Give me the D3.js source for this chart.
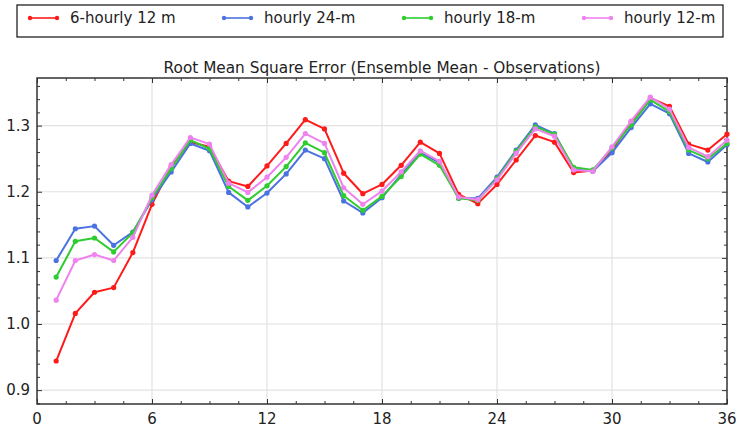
<!DOCTYPE html>
<html>
<head>
<meta charset="utf-8">
<script src="https://cdn.jsdelivr.net/npm/d3@7"></script>
<style>
  html, body { margin: 0; padding: 0; background: #fff; }
  svg { display: block; font-family: "DejaVu Sans", sans-serif; }
</style>
</head>
<body>
<svg id="chart" width="747" height="432"></svg>
<script>
// Forecast hour (x) and RMSE for each configuration
const hours = d3.range(1, 37);
const seriesNames = ["6-hourly 12 m", "hourly 24-m", "hourly 18-m", "hourly 12-m"];
const seriesColors = ["#ff1a1a", "#4a72e0", "#2ecc2e", "#ee82ee"];

const red6h12 = [0.944, 1.016, 1.048, 1.055, 1.108, 1.181, 1.238, 1.275, 1.268, 1.216,
  1.208, 1.239, 1.273, 1.309, 1.295, 1.228, 1.197, 1.211, 1.240, 1.275,
  1.258, 1.196, 1.182, 1.211, 1.248, 1.285, 1.275, 1.229, 1.232, 1.262,
  1.306, 1.342, 1.329, 1.272, 1.263, 1.287];
const blue1h24 = [1.096, 1.144, 1.148, 1.119, 1.139, 1.188, 1.230, 1.273, 1.262, 1.199,
  1.177, 1.198, 1.227, 1.263, 1.250, 1.186, 1.168, 1.191, 1.226, 1.259,
  1.244, 1.190, 1.190, 1.222, 1.263, 1.301, 1.288, 1.234, 1.231, 1.259,
  1.297, 1.333, 1.318, 1.258, 1.245, 1.271];
const green1h18 = [1.071, 1.125, 1.130, 1.109, 1.138, 1.191, 1.235, 1.278, 1.265, 1.208,
  1.187, 1.209, 1.238, 1.274, 1.259, 1.194, 1.172, 1.193, 1.223, 1.257,
  1.240, 1.190, 1.187, 1.220, 1.261, 1.298, 1.287, 1.237, 1.233, 1.266,
  1.301, 1.339, 1.321, 1.263, 1.250, 1.273];
const pink1h12 = [1.036, 1.096, 1.105, 1.096, 1.131, 1.195, 1.241, 1.282, 1.272, 1.213,
  1.199, 1.222, 1.252, 1.288, 1.273, 1.206, 1.181, 1.201, 1.230, 1.262,
  1.246, 1.192, 1.188, 1.218, 1.258, 1.295, 1.284, 1.233, 1.231, 1.268,
  1.307, 1.343, 1.325, 1.267, 1.253, 1.278];
const seriesValues = [red6h12, blue1h24, green1h18, pink1h12];

const xTicks = [0, 6, 12, 18, 24, 30, 36];
const yTicks = [0.9, 1.0, 1.1, 1.2, 1.3];
const chartTitle = "Root Mean Square Error (Ensemble Mean - Observations)";

const svg = d3.select("#chart");
const plot = { left: 37, right: 727, top: 78, bottom: 404 };

const x = d3.scaleLinear().domain([0, 36]).range([plot.left, plot.right]);
const y = d3.scaleLinear().domain([0.879, 1.372]).range([plot.bottom, plot.top]);

// grid
const grid = svg.append("g");
grid.selectAll("line.gx").data(xTicks.slice(1, -1)).join("line")
  .attr("x1", d => x(d)).attr("x2", d => x(d))
  .attr("y1", plot.top).attr("y2", plot.bottom)
  .attr("stroke", "#e2e2e2").attr("stroke-width", 1.2);
grid.selectAll("line.gy").data(yTicks).join("line")
  .attr("x1", plot.left).attr("x2", plot.right)
  .attr("y1", d => y(d)).attr("y2", d => y(d))
  .attr("stroke", "#e2e2e2").attr("stroke-width", 1.2);

// inward ticks on all four sides
const xMinor = d3.range(0, 36.01, 1.5).filter(v => v % 6 !== 0);
const yMinor = d3.range(0.88, 1.371, 0.02).map(v => +v.toFixed(2)).filter(v => Math.abs(v * 10 - Math.round(v * 10)) > 1e-6);
function ticksAxis(axisGen, transform, major, minor) {
  const g = svg.append("g").attr("transform", transform);
  g.call(axisGen.tickValues(major).tickSizeInner(-5).tickSizeOuter(0).tickFormat(""));
  const gm = svg.append("g").attr("transform", transform);
  gm.call(axisGen.tickValues(minor).tickSizeInner(-3).tickSizeOuter(0).tickFormat(""));
  [g, gm].forEach(s => { s.select(".domain").remove(); s.selectAll("line").attr("stroke", "#333").attr("stroke-width", 1); });
}
ticksAxis(d3.axisBottom(x), `translate(0,${plot.bottom})`, xTicks, xMinor);
ticksAxis(d3.axisTop(x), `translate(0,${plot.top})`, xTicks, xMinor);
ticksAxis(d3.axisLeft(y), `translate(${plot.left},0)`, yTicks, yMinor);
ticksAxis(d3.axisRight(y), `translate(${plot.right},0)`, yTicks, yMinor);

// tick labels
svg.append("g").selectAll("text").data(xTicks).join("text")
  .attr("x", d => x(d)).attr("y", 424)
  .attr("text-anchor", "middle").attr("font-size", 15).attr("fill", "#222")
  .text(d => d);
svg.append("g").selectAll("text").data(yTicks).join("text")
  .attr("x", 30).attr("y", d => y(d) + 5)
  .attr("text-anchor", "end").attr("font-size", 15).attr("fill", "#222")
  .text(d => d3.format(".1f")(d));

// frame
svg.append("rect")
  .attr("x", plot.left).attr("y", plot.top)
  .attr("width", plot.right - plot.left).attr("height", plot.bottom - plot.top)
  .attr("fill", "none").attr("stroke", "#333").attr("stroke-width", 1.5);

// title
svg.append("text")
  .attr("x", (plot.left + plot.right) / 2).attr("y", 73)
  .attr("text-anchor", "middle").attr("font-size", 15.3).attr("fill", "#222")
  .text(chartTitle);

// series lines and markers
const line = d3.line().x((d, i) => x(hours[i])).y(d => y(d));
seriesValues.forEach((vals, k) => {
  const g = svg.append("g");
  g.append("path").datum(vals)
    .attr("d", line).attr("fill", "none")
    .attr("stroke", seriesColors[k]).attr("stroke-width", 2)
    .attr("stroke-linejoin", "round");
  g.selectAll("circle").data(vals).join("circle")
    .attr("cx", (d, i) => x(hours[i])).attr("cy", d => y(d))
    .attr("r", 2.6).attr("fill", seriesColors[k]);
});

// legend
const legend = svg.append("g");
legend.append("rect")
  .attr("x", 17).attr("y", 5).attr("width", 706).attr("height", 32)
  .attr("fill", "#fff").attr("stroke", "#222").attr("stroke-width", 1.3);
const legX = [30, 224, 404, 584];
seriesNames.forEach((name, k) => {
  const lx = legX[k], ly = 18;
  legend.append("line")
    .attr("x1", lx).attr("x2", lx + 27).attr("y1", ly).attr("y2", ly)
    .attr("stroke", seriesColors[k]).attr("stroke-width", 1.6);
  [lx, lx + 27].forEach(cx => legend.append("circle")
    .attr("cx", cx).attr("cy", ly).attr("r", 2.2).attr("fill", seriesColors[k]));
  legend.append("text")
    .attr("x", lx + 40).attr("y", ly + 5)
    .attr("font-size", 15).attr("fill", "#222")
    .text(name);
});
</script>
</body>
</html>
